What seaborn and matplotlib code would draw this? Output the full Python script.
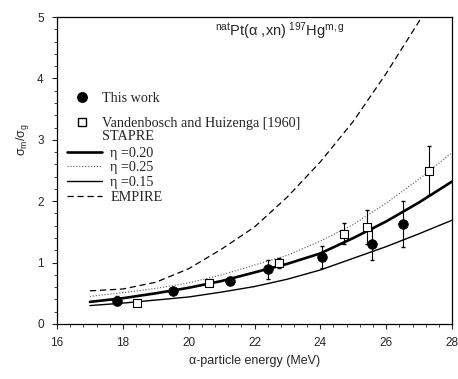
import matplotlib
matplotlib.use('Agg')
import numpy as np
import pandas as pd
import seaborn as sns
import matplotlib.pyplot as plt
from matplotlib.lines import Line2D
from matplotlib.ticker import MultipleLocator

# measured points (this work)
ewE = [17.81, 19.53, 21.26, 22.42, 24.05, 25.57, 26.50]
ewR = [0.38, 0.54, 0.70, 0.89, 1.09, 1.30, 1.63]
ewErr = [0.07, 0.04, 0.06, 0.15, 0.18, 0.26, 0.37]

# Vandenbosch and Huizenga [1960]
vhE = [18.42, 20.63, 22.73, 24.71, 25.41, 27.31]
vhR = [0.35, 0.67, 1.00, 1.47, 1.58, 2.50]
vhErr = [0.03, 0.03, 0.08, 0.17, 0.27, 0.40]

# model curves
Egrid = [17, 18, 19, 20, 21, 22, 23, 24, 25, 26, 27, 28]
eta20 = [0.36, 0.42, 0.50, 0.59, 0.70, 0.84, 0.98, 1.15, 1.40, 1.67, 1.98, 2.32]
eta25 = [0.45, 0.51, 0.58, 0.67, 0.80, 0.96, 1.12, 1.35, 1.62, 1.97, 2.36, 2.79]
eta15 = [0.30, 0.34, 0.39, 0.44, 0.52, 0.61, 0.73, 0.88, 1.07, 1.26, 1.47, 1.69]
empE = [17, 18, 19, 20, 21, 22, 23, 24, 25, 26, 27, 27.1]
empR = [0.54, 0.57, 0.68, 0.90, 1.22, 1.58, 2.07, 2.64, 3.30, 4.08, 4.93, 5.01]

xTicks = [16, 18, 20, 22, 24, 26, 28]
yTicks = [0, 1, 2, 3, 4, 5]

sns.set_style('ticks')
plt.rcParams['font.family'] = ['Liberation Sans', 'DejaVu Sans']
plt.rcParams['mathtext.fontset'] = 'custom'
plt.rcParams['mathtext.rm'] = 'Liberation Sans'
plt.rcParams['mathtext.it'] = 'Liberation Sans:italic'

fig = plt.figure(figsize=(4.58, 3.79), dpi=100)
ax = fig.add_axes([57/458, 1-324/379, 395/458, 307/379])

sns.lineplot(x=Egrid, y=eta20, ax=ax, color='k', lw=1.9)
sns.lineplot(x=Egrid, y=eta25, ax=ax, color='0.35', lw=0.8, linestyle=':')
sns.lineplot(x=Egrid, y=eta15, ax=ax, color='k', lw=1.0)
l = sns.lineplot(x=empE, y=empR, ax=ax, color='k', lw=0.9, linestyle='--').lines[-1]
l.set_dashes((5, 3))

ax.errorbar(ewE, ewR, yerr=ewErr, fmt='none', ecolor='k', elinewidth=0.8, capsize=1.2)
ax.errorbar(vhE, vhR, yerr=vhErr, fmt='none', ecolor='k', elinewidth=0.8, capsize=1.2)
sns.scatterplot(x=ewE, y=ewR, ax=ax, color='k', s=48, edgecolor='k', zorder=5)
sns.scatterplot(x=vhE, y=vhR, ax=ax, marker='s', s=32, facecolor='white', edgecolor='k',
                linewidth=0.8, zorder=5)

ax.set_xlim(16, 28)
ax.set_ylim(0, 5)
ax.set_xticks(xTicks)
ax.set_yticks(yTicks)
ax.xaxis.set_minor_locator(MultipleLocator(0.4))
ax.yaxis.set_minor_locator(MultipleLocator(0.2))
ax.tick_params(which='major', direction='out', length=3.5, width=0.8, labelsize=8.5, pad=6)
ax.tick_params(which='minor', direction='out', length=2, width=0.6)
for s in ax.spines.values():
    s.set_linewidth(0.9)
    s.set_color('k')

ax.set_xlabel('\u03b1-particle energy (MeV)', fontsize=9)
ax.set_ylabel('\u03c3$_\\mathrm{m}$/\u03c3$_\\mathrm{g}$', fontsize=9)
ax.yaxis.set_label_coords(-0.065, 0.6)

ax.text(0.565, 0.955, '$^{\\mathrm{nat}}$Pt(\u03b1 ,xn)$^{\\ 197}$Hg$^{\\mathrm{m,g}}$',
        transform=ax.transAxes, ha='center', va='center', fontsize=10.5)

serif = {'family': 'Liberation Serif', 'size': 10.2}
common = dict(loc='upper left', frameon=False, borderpad=0, borderaxespad=0, prop=serif)

hWork = Line2D([], [], marker='o', color='k', ls='none', markersize=6.8)
legA = ax.legend([hWork], ['This work'], bbox_to_anchor=(0.030, 0.757),
                 handlelength=1.85, handletextpad=0.5, **common)
ax.add_artist(legA)

hVH = Line2D([], [], marker='s', mfc='white', mec='k', ls='none', markersize=5.5)
hNone = Line2D([], [], ls='none')
legB = ax.legend([hVH, hNone], ['Vandenbosch and Huizenga [1960]', 'STAPRE'],
                 bbox_to_anchor=(0.030, 0.675), handlelength=1.85, handletextpad=0.5,
                 labelspacing=0.02, **common)
ax.add_artist(legB)

h20 = Line2D([], [], color='k', lw=1.9)
h25 = Line2D([], [], color='0.35', lw=0.8, ls=':')
h15 = Line2D([], [], color='k', lw=1.0)
hEmp = Line2D([], [], color='k', lw=0.9, ls='--', dashes=(5, 3))
ax.legend([h20, h25, h15, hEmp], ['\u03b7 =0.20', '\u03b7 =0.25', '\u03b7 =0.15', 'EMPIRE'],
          bbox_to_anchor=(0.025, 0.578), handlelength=2.5, handletextpad=0.55,
          labelspacing=0.12, **common)

fig.savefig('out.png', dpi=100)
